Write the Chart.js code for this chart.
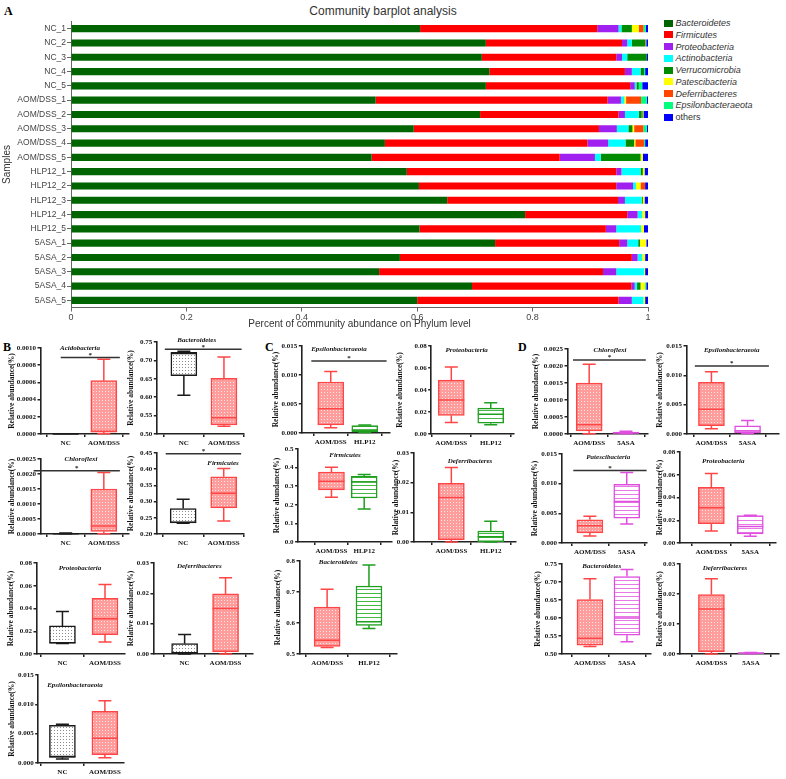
<!DOCTYPE html>
<html>
<head>
<meta charset="utf-8">
<script src="https://cdn.jsdelivr.net/npm/chart.js@4.4.0/dist/chart.umd.min.js"></script>
<style>
  html, body { margin: 0; padding: 0; background: #fff; }
  #fig { position: relative; width: 786px; height: 779px; overflow: hidden; }
  .panel { position: absolute; font: bold 12px 'Liberation Serif', serif; color: #000; }
  .ttl { position: absolute; transform: translate(-50%, -50%); white-space: nowrap;
         font: italic bold 7px 'Liberation Serif', serif; color: #111; }
  #titleA { position: absolute; left: 383px; top: 11px; transform: translate(-50%, -50%);
            font: 12px 'Liberation Sans', Arial, sans-serif; color: #333; white-space: nowrap; }
  #legend { position: absolute; left: 664px; top: 18px; font: italic 9px 'Liberation Sans', Arial, sans-serif; color: #333; }
  #legend div { height: 11.75px; line-height: 11.75px; white-space: nowrap; }
  #legend span { display: inline-block; width: 8.5px; height: 7px; margin-right: 3px; vertical-align: -0.5px; }
</style>
</head>
<body>
<div id="fig">
  <div class="panel" style="left:4px;top:4px">A</div>
  <div class="panel" style="left:3px;top:340px">B</div>
  <div class="panel" style="left:265px;top:340px">C</div>
  <div class="panel" style="left:518px;top:340px">D</div>
  <div id="titleA">Community barplot analysis</div>
  <div id="legend"></div>
  <canvas id="cA" width="662" height="333" style="position:absolute;left:0;top:0"></canvas>
</div>
<script>
/* ── panel A data ─────────────────────────────────────────────── */

const SAMPLES = ['NC_1', 'NC_2', 'NC_3', 'NC_4', 'NC_5',
  'AOM/DSS_1', 'AOM/DSS_2', 'AOM/DSS_3', 'AOM/DSS_4', 'AOM/DSS_5',
  'HLP12_1', 'HLP12_2', 'HLP12_3', 'HLP12_4', 'HLP12_5',
  '5ASA_1', '5ASA_2', '5ASA_3', '5ASA_4', '5ASA_5'];

const PHYLA = ['Bacteroidetes', 'Firmicutes', 'Proteobacteria', 'Actinobacteria', 'Verrucomicrobia',
  'Patescibacteria', 'Deferribacteres', 'Epsilonbacteraeota', 'others'];
const PHYLA_COLORS = ['#006400', '#ff0000', '#a020f0', '#00ffff', '#008b00',
  '#ffff00', '#ff4500', '#00ff7f', '#0000ff'];

const BACTEROIDETES = [0.605, 0.719, 0.712, 0.725, 0.719, 0.528, 0.709, 0.594, 0.544, 0.521,
  0.582, 0.603, 0.652, 0.787, 0.604, 0.735, 0.570, 0.534, 0.695, 0.600];
const FIRMICUTES = [0.307, 0.236, 0.233, 0.235, 0.250, 0.402, 0.240, 0.321, 0.351, 0.326,
  0.363, 0.342, 0.296, 0.177, 0.323, 0.215, 0.402, 0.388, 0.276, 0.349];
const PROTEOBACTERIA = [0.037, 0.009, 0.010, 0.012, 0.008, 0.023, 0.011, 0.031, 0.036, 0.061,
  0.009, 0.029, 0.012, 0.018, 0.018, 0.014, 0.010, 0.023, 0.006, 0.023];
const ACTINOBACTERIA = [0.005, 0.008, 0.009, 0.015, 0.003, 0.006, 0.024, 0.020, 0.030, 0.010,
  0.033, 0.005, 0.029, 0.008, 0.043, 0.019, 0.008, 0.048, 0.004, 0.020];
const VERRUCOMICROBIA = [0.018, 0.023, 0.034, 0.006, 0.004, 0, 0.005, 0.007, 0.015, 0.069,
  0.004, 0, 0.002, 0, 0, 0.003, 0, 0, 0.006, 0];
const PATESCIBACTERIA = [0.012, 0, 0, 0, 0, 0.003, 0, 0.003, 0.002, 0.004,
  0.003, 0.008, 0.003, 0.005, 0.005, 0.011, 0.005, 0.002, 0.008, 0.003];
const DEFERRIBACTERES = [0.008, 0.001, 0, 0, 0, 0.026, 0.002, 0.016, 0.015, 0,
  0, 0.008, 0, 0, 0, 0, 0, 0, 0, 0];
const EPSILONBACTERAEOTA = [0.004, 0.001, 0, 0.002, 0.006, 0.010, 0.002, 0.006, 0.002, 0,
  0, 0, 0, 0, 0, 0, 0, 0, 0.002, 0];
const OTHERS = [0.004, 0.003, 0.002, 0.005, 0.010, 0.002, 0.007, 0.002, 0.005, 0.009,
  0.006, 0.005, 0.006, 0.005, 0.007, 0.003, 0.005, 0.005, 0.003, 0.005];

const X_TICKS_A = [0, 0.2, 0.4, 0.6, 0.8, 1];

/* ── box plot data: [min, Q1, median, Q3, max] ───────────────── */

const ACIDO_NC    = [0, 0, 0, 0, 0.000003];
const ACIDO_AOM   = [0.000003, 0.000025, 0.000028, 0.00062, 0.00087];
const CHLORO_NC   = [0, 0.000005, 0.00001, 0.00002, 0.00003];
const CHLORO_AOM  = [0.000005, 0.00009, 0.00027, 0.0015, 0.00205];
const CHLORO_5ASA = [0.00001, 0.00002, 0.00004, 0.00006, 0.00008];
const BACT_NC     = [0.605, 0.6585, 0.719, 0.722, 0.725];
const BACT_AOM    = [0.521, 0.5245, 0.544, 0.6515, 0.709];
const BACT_HLP    = [0.582, 0.5925, 0.604, 0.7195, 0.787];
const BACT_5ASA   = [0.534, 0.552, 0.600, 0.715, 0.735];
const FIRM_NC     = [0.233, 0.234, 0.236, 0.2785, 0.307];
const FIRM_AOM    = [0.240, 0.2805, 0.326, 0.3765, 0.402];
const FIRM_HLP    = [0.177, 0.2365, 0.323, 0.3525, 0.363];
const PROT_NC     = [0.0093, 0.0095, 0.0100, 0.0247, 0.0373];
const PROT_AOM    = [0.0105, 0.017, 0.031, 0.049, 0.061];
const PROT_HLP    = [0.0085, 0.0098, 0.018, 0.0235, 0.0285];
const PROT_5ASA   = [0.006, 0.008, 0.0145, 0.024, 0.0245];
const DEF_NC      = [0, 0.0002, 0.0004, 0.0034, 0.0064];
const DEF_AOM     = [0, 0.0008, 0.015, 0.0198, 0.0251];
const DEF_HLP     = [0, 0.0001, 0.0018, 0.0037, 0.0070];
const DEF_5ASA    = [0.0001, 0.0002, 0.0003, 0.0004, 0.0005];
const EPS_NC      = [0.0007, 0.00095, 0.0011, 0.0064, 0.0066];
const EPS_AOM     = [0.0009, 0.0014, 0.0042, 0.0088, 0.0106];
const EPS_HLP     = [0.0001, 0.0002, 0.0005, 0.0013, 0.0014];
const EPS_5ASA    = [0.0001, 0.0002, 0.0005, 0.0014, 0.0023];
const PATES_AOM   = [0.0012, 0.0017, 0.0029, 0.0039, 0.0045];
const PATES_5ASA  = [0.0032, 0.0042, 0.0070, 0.0099, 0.0119];

/* ── styling ──────────────────────────────────────────────────── */

const SANS = "'Liberation Sans', Arial, sans-serif";
const SERIF = "'Liberation Serif', 'Times New Roman', serif";
const BOX_W = 26;

function pattern(bg, fg, kind) {
  const c = document.createElement('canvas');
  c.width = kind === 'dots' ? 3 : 4;
  c.height = kind === 'dots' ? 3 : 4;
  const g = c.getContext('2d');
  g.fillStyle = bg; g.fillRect(0, 0, c.width, c.height);
  g.fillStyle = fg;
  if (kind === 'dots') g.fillRect(1, 1, 1, 1);
  else g.fillRect(0, 0, c.width, 1);
  return g.createPattern(c, 'repeat');
}

const GROUP_STYLE = {
  'NC':      { line: '#1a1a1a', fill: pattern('#ffffff', '#8c8c8c', 'dots') },
  'AOM/DSS': { line: '#ff4545', fill: pattern('#ff9c9c', '#ffe6e6', 'dots') },
  'HLP12':   { line: '#1f9f1f', fill: pattern('#ffffff', '#45b845', 'lines') },
  '5ASA':    { line: '#e04ee0', fill: pattern('#ffffff', '#e77ae7', 'lines') },
};

/* ── panel layout (plot box in page px) ───────────────────────── */

const BOXES = [
  { title: 'Acidobacteria', tx: 80, ty: 348.3, L: 40, T: 348.3, R: 128, B: 434, yt: 12,
    min: 0, max: 0.001, step: 0.0002, dec: 4, xmin: -0.66, xmax: 1.66,
    groups: ['NC', 'AOM/DSS'], stats: [ACIDO_NC, ACIDO_AOM], sig: [0.00089, -0.13, 1.42] },
  { title: 'Bacteroidetes', tx: 196.7, ty: 339.7, L: 157, T: 341.7, R: 244, B: 433.7, yt: 131.7,
    min: 0.5, max: 0.75, step: 0.05, dec: 2, xmin: -0.675, xmax: 1.5,
    groups: ['NC', 'AOM/DSS'], stats: [BACT_NC, BACT_AOM], sig: [0.730, -0.475, 1.44] },
  { title: 'Chloroflexi', tx: 81, ty: 459.3, L: 40, T: 459.3, R: 128, B: 534.3, yt: 12,
    min: 0, max: 0.0025, step: 0.0005, dec: 4, xmin: -0.66, xmax: 1.66,
    groups: ['NC', 'AOM/DSS'], stats: [CHLORO_NC, CHLORO_AOM], sig: [0.00211, -0.84, 1.42] },
  { title: 'Firmicutes', tx: 223, ty: 463, L: 157, T: 452.7, R: 244, B: 534, yt: 131.7,
    min: 0.2, max: 0.45, step: 0.05, dec: 2, xmin: -0.65, xmax: 1.5,
    groups: ['NC', 'AOM/DSS'], stats: [FIRM_NC, FIRM_AOM], sig: [0.448, -0.43, 1.43] },
  { title: 'Proteobacteria', tx: 80, ty: 568.3, L: 36, T: 563.3, R: 124, B: 654, yt: 11,
    min: 0, max: 0.08, step: 0.02, dec: 2, xmin: -0.61, xmax: 1.47,
    groups: ['NC', 'AOM/DSS'], stats: [PROT_NC, PROT_AOM] },
  { title: 'Deferribacteres', tx: 199.3, ty: 566, L: 153, T: 563, R: 252, B: 654, yt: 131,
    min: 0, max: 0.03, step: 0.01, dec: 2, xmin: -0.76, xmax: 1.67,
    groups: ['NC', 'AOM/DSS'], stats: [DEF_NC, DEF_AOM] },
  { title: 'Epsilonbacteraeota', tx: 75, ty: 685, L: 37.7, T: 675, R: 123, B: 763.3, yt: 12,
    min: 0, max: 0.015, step: 0.005, dec: 3, xmin: -0.57, xmax: 1.45,
    groups: ['NC', 'AOM/DSS'], stats: [EPS_NC, EPS_AOM] },

  { title: 'Epsilonbacteraeota', tx: 339, ty: 349.3, L: 302, T: 345.7, R: 390, B: 432.7, yt: 276.7,
    min: 0, max: 0.015, step: 0.005, dec: 3, xmin: -0.85, xmax: 1.74,
    groups: ['AOM/DSS', 'HLP12'], stats: [EPS_AOM, EPS_HLP], sig: [0.0124, -0.57, 1.64] },
  { title: 'Proteobacteria', tx: 466.7, ty: 350, L: 430.7, T: 345.7, R: 513, B: 433.3, yt: 400,
    min: 0, max: 0.08, step: 0.02, dec: 2, xmin: -0.51, xmax: 1.59,
    groups: ['AOM/DSS', 'HLP12'], stats: [PROT_AOM, PROT_HLP] },
  { title: 'Firmicutes', tx: 345, ty: 455, L: 298.3, T: 449.3, R: 392, B: 542.3, yt: 277.7,
    min: 0, max: 0.5, step: 0.1, dec: 1, xmin: -1.02, xmax: 1.85,
    groups: ['AOM/DSS', 'HLP12'], stats: [FIRM_AOM, FIRM_HLP] },
  { title: 'Deferribacteres', tx: 470, ty: 461, L: 413, T: 453.3, R: 515, B: 542.3, yt: 396,
    min: 0, max: 0.03, step: 0.01, dec: 2, xmin: -0.96, xmax: 1.64,
    groups: ['AOM/DSS', 'HLP12'], stats: [DEF_AOM, DEF_HLP] },
  { title: 'Bacteroidetes', tx: 338.3, ty: 561.7, L: 299.3, T: 560.7, R: 396.7, B: 654, yt: 278.3,
    min: 0.5, max: 0.8, step: 0.1, dec: 1, xmin: -0.66, xmax: 1.67,
    groups: ['AOM/DSS', 'HLP12'], stats: [BACT_AOM, BACT_HLP] },

  { title: 'Chloroflexi', tx: 610, ty: 350, L: 567.7, T: 349, R: 648, B: 433.7, yt: 536.7,
    min: 0, max: 0.0025, step: 0.0005, dec: 4, xmin: -0.59, xmax: 1.6,
    groups: ['AOM/DSS', '5ASA'], stats: [CHLORO_AOM, CHLORO_5ASA], sig: [0.00218, -0.44, 1.54] },
  { title: 'Epsilonbacteraeota', tx: 731.7, ty: 350, L: 686, T: 345.7, R: 778, B: 433.7, yt: 660,
    min: 0, max: 0.015, step: 0.005, dec: 3, xmin: -0.69, xmax: 1.87,
    groups: ['AOM/DSS', '5ASA'], stats: [EPS_AOM, EPS_5ASA], sig: [0.0116, -0.46, 1.59] },
  { title: 'Patescibacteria', tx: 608.3, ty: 457.3, L: 561, T: 454.3, R: 646, B: 543.3, yt: 535,
    min: 0, max: 0.015, step: 0.005, dec: 3, xmin: -0.77, xmax: 1.55,
    groups: ['AOM/DSS', '5ASA'], stats: [PATES_AOM, PATES_5ASA], sig: [0.01224, -0.45, 1.54] },
  { title: 'Proteobacteria', tx: 723.3, ty: 461, L: 679.3, T: 452.3, R: 775, B: 543, yt: 660,
    min: 0, max: 0.08, step: 0.02, dec: 2, xmin: -0.81, xmax: 1.66,
    groups: ['AOM/DSS', '5ASA'], stats: [PROT_AOM, PROT_5ASA] },
  { title: 'Bacteroidetes', tx: 601.7, ty: 566, L: 561, T: 564, R: 650, B: 654, yt: 538,
    min: 0.5, max: 0.75, step: 0.05, dec: 2, xmin: -0.77, xmax: 1.65,
    groups: ['AOM/DSS', '5ASA'], stats: [BACT_AOM, BACT_5ASA] },
  { title: 'Deferribacteres', tx: 725, ty: 568.3, L: 679.3, T: 564, R: 778, B: 654, yt: 660,
    min: 0, max: 0.03, step: 0.01, dec: 2, xmin: -0.8, xmax: 1.71,
    groups: ['AOM/DSS', '5ASA'], stats: [DEF_AOM, DEF_5ASA] },
];

/* ── panel A: stacked bars ────────────────────────────────────── */

const SERIES = [BACTEROIDETES, FIRMICUTES, PROTEOBACTERIA, ACTINOBACTERIA, VERRUCOMICROBIA,
  PATESCIBACTERIA, DEFERRIBACTERES, EPSILONBACTERAEOTA, OTHERS];

const legendEl = document.getElementById('legend');
PHYLA.forEach((p, i) => {
  const row = document.createElement('div');
  row.innerHTML = `<span style="background:${PHYLA_COLORS[i]}"></span>${p}`;
  if (p === 'others') row.style.fontStyle = 'normal';
  legendEl.appendChild(row);
});

new Chart(document.getElementById('cA'), {
  type: 'bar',
  data: {
    labels: SAMPLES,
    datasets: PHYLA.map((p, i) => ({
      label: p,
      data: SERIES[i],
      backgroundColor: PHYLA_COLORS[i],
      borderWidth: 0,
      barPercentage: 0.5,
      categoryPercentage: 1,
    })),
  },
  options: {
    indexAxis: 'y',
    responsive: false,
    animation: false,
    layout: { padding: { top: 21.5, right: 14, left: 0, bottom: 0 } },
    plugins: { legend: { display: false }, tooltip: { enabled: false } },
    scales: {
      x: {
        stacked: true, min: 0, max: 1,
        afterBuildTicks: s => { s.ticks = X_TICKS_A.map(v => ({ value: v })); },
        ticks: { callback: v => String(Math.round(v * 10) / 10), font: { family: SANS, size: 9 }, color: '#444', padding: 1 },
        grid: { drawOnChartArea: false, tickLength: 4, color: '#666' },
        border: { color: '#666' },
        title: { display: true, text: 'Percent of community abundance on Phylum level',
                 font: { family: SANS, size: 10 }, color: '#333', padding: { top: 0, bottom: 3 } },
        afterFit: s => { s.height = 25.5; },
      },
      y: {
        stacked: true,
        ticks: { font: { family: SANS, size: 8.5 }, color: '#444', padding: 1, autoSkip: false },
        grid: { drawOnChartArea: false, offset: false, tickLength: 4, color: '#666' },
        border: { color: '#666' },
        title: { display: true, text: 'Samples', font: { family: SANS, size: 10 }, color: '#333', padding: { top: 1, bottom: 0 } },
        afterFit: s => { s.width = 71; },
      },
    },
  },
});

/* ── panels B-D: box plots ────────────────────────────────────── */

function whiskers(cfg, colors) {
  return {
    id: 'whiskers',
    afterDatasetsDraw(chart) {
      const { ctx, scales: { x, y } } = chart;
      const half = BOX_W / 2, cap = BOX_W / 4;
      ctx.save();
      ctx.lineWidth = 1.5;
      cfg.stats.forEach((s, i) => {
        const cx = x.getPixelForValue(i);
        const py = s.map(v => y.getPixelForValue(v));
        ctx.strokeStyle = colors[i];
        ctx.beginPath();
        ctx.moveTo(cx, py[1]); ctx.lineTo(cx, py[0]);
        ctx.moveTo(cx - cap, py[0]); ctx.lineTo(cx + cap, py[0]);
        ctx.moveTo(cx, py[3]); ctx.lineTo(cx, py[4]);
        ctx.moveTo(cx - cap, py[4]); ctx.lineTo(cx + cap, py[4]);
        ctx.moveTo(cx - half, py[2]); ctx.lineTo(cx + half, py[2]);
        ctx.stroke();
      });
      if (cfg.sig) {
        const [v, a, b] = cfg.sig;
        const sy = y.getPixelForValue(v);
        const xa = x.getPixelForValue(a), xb = x.getPixelForValue(b);
        ctx.strokeStyle = '#333';
        ctx.beginPath(); ctx.moveTo(xa, sy); ctx.lineTo(xb, sy); ctx.stroke();
        ctx.fillStyle = '#222';
        ctx.font = `bold 7px ${SERIF}`;
        ctx.textAlign = 'center';
        ctx.textBaseline = 'bottom';
        ctx.fillText('*', (xa + xb) / 2, sy + 1);
      }
      ctx.restore();
    },
  };
}

function boxChart(cfg) {
  const fig = document.getElementById('fig');
  const padTop = 12, xH = 17, padR = 16;
  const yW = cfg.L - cfg.yt + 4.5;
  const cv = document.createElement('canvas');
  cv.width = Math.round(yW + cfg.R - cfg.L + padR);
  cv.height = Math.round(padTop + cfg.B - cfg.T + xH);
  cv.style.cssText = `position:absolute;left:${cfg.L - yW}px;top:${cfg.T - padTop}px`;
  fig.appendChild(cv);

  const t = document.createElement('div');
  t.className = 'ttl';
  t.style.left = cfg.tx + 'px';
  t.style.top = cfg.ty + 'px';
  t.textContent = cfg.title;
  fig.appendChild(t);

  const colors = cfg.groups.map(g => GROUP_STYLE[g].line);
  const tickFont = { family: SERIF, size: 7, weight: 'bold' };

  new Chart(cv, {
    type: 'bar',
    data: {
      datasets: [{
        data: cfg.stats.map((s, i) => ({ x: i, y: [s[1], s[3]] })),
        backgroundColor: cfg.groups.map(g => GROUP_STYLE[g].fill),
        borderColor: colors,
        borderWidth: 1.5,
        borderSkipped: false,
        barThickness: BOX_W,
      }],
    },
    options: {
      responsive: false,
      animation: false,
      layout: { padding: { top: padTop, right: padR, left: 0, bottom: 0 } },
      plugins: { legend: { display: false }, tooltip: { enabled: false } },
      scales: {
        x: {
          type: 'linear', min: cfg.xmin, max: cfg.xmax, offset: false,
          afterBuildTicks: s => { s.ticks = cfg.groups.map((g, i) => ({ value: i })); },
          ticks: { callback: (v, i) => cfg.groups[i], font: tickFont, color: '#111', padding: 1.5, autoSkip: false, maxRotation: 0 },
          grid: { drawOnChartArea: false, tickLength: 3, color: '#222', lineWidth: 1.5 },
          border: { color: '#222', width: 1.6 },
          afterFit: s => { s.height = xH; },
        },
        y: {
          min: cfg.min, max: cfg.max,
          ticks: { stepSize: cfg.step, callback: v => v.toFixed(cfg.dec), font: tickFont, color: '#111', padding: 1.5 },
          grid: { drawOnChartArea: false, tickLength: 3, color: '#222', lineWidth: 1.5 },
          border: { color: '#222', width: 1.6 },
          title: { display: true, text: 'Relative abundance(%)', font: { family: SERIF, size: 7.5, weight: 'bold' }, color: '#111', padding: 0 },
          afterFit: s => { s.width = yW; },
        },
      },
    },
    plugins: [whiskers(cfg, colors)],
  });
}

BOXES.forEach(boxChart);
</script>
</body>
</html>
